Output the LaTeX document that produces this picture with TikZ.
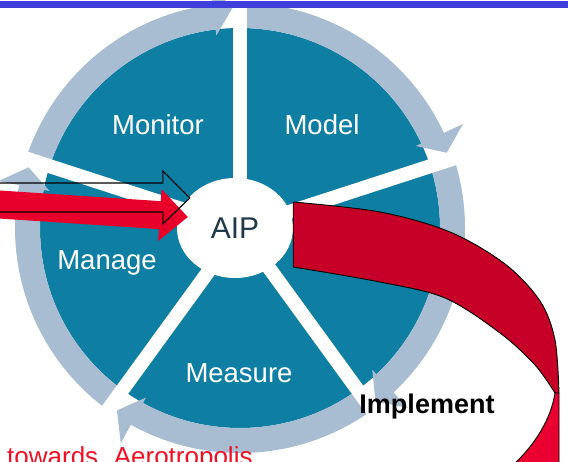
\documentclass[tikz,border=0pt]{standalone}
\usepackage{fontspec}
\setmainfont{Liberation Sans}
\usetikzlibrary{calc, positioning}
\usetikzlibrary{shapes.geometric}

\definecolor{diskblue}{RGB}{14,127,163}
\definecolor{ringgray}{RGB}{168,189,209}
\definecolor{barblue}{RGB}{62,62,218}
\definecolor{inred}{RGB}{232,0,42}
\definecolor{ribdark}{RGB}{198,0,38}
\definecolor{ribbright}{RGB}{234,0,48}
\definecolor{aiptext}{RGB}{30,58,74}
\definecolor{towardsred}{RGB}{240,16,36}

\tikzset{
  seglabel/.style={text=white, anchor=base, font=\fontsize{27.5}{30}\selectfont},
  spoke/.style={white, line width=14pt, line cap=butt},
  ribbon/.style={draw=black, line width=0.9pt},
}

\begin{document}
\begin{tikzpicture}[x=1pt,y=1pt,line cap=round,line join=round]
\path[use as bounding box] (0,0) rectangle (568,461);
\clip (0,0) rectangle (568,461);

\coordinate (O) at (240,233);
\def\rin{200}
\def\rout{225}

\fill[diskblue] (O) circle (\rin);

% gray arrows round the wheel
\foreach \b in {90,18,-54,-126,162}{
  \pgfmathsetmacro{\startang}{\b+72}
  \pgfmathsetmacro{\barbang}{\b+7}
  \pgfmathsetmacro{\tipang}{\b+2}
  \fill[ringgray,shift={(O)}] (\startang:\rin)
    arc[start angle=\startang,end angle=\barbang,radius=\rin]
    -- (\barbang:194) -- (\tipang:220) -- (\barbang:246) -- (\barbang:\rout)
    arc[start angle=\barbang,end angle=\startang,radius=\rout] -- cycle;
}

\foreach \b in {90,18,-54,-126,162}{\draw[spoke] (O) -- ++(\b:250);}

\node[ellipse, fill=white, minimum width=116pt, minimum height=100pt, inner sep=0pt,
  text=aiptext, font=\fontsize{30}{32}\selectfont] (aip) at (235,233) {AIP};

\node[seglabel] (monitor) at (158,326) {Monitor};
\node[seglabel] (model) at (322,326) {Model};
\node[seglabel] (manage) at (107,191) {Manage};
\node[seglabel] (measure) at (239,78) {Measure};

% arrows coming in from the left
\coordinate (redtip) at ($(aip.west)+(11,11)$);
\coordinate (blacktip) at ($(aip.west)+(13,30)$);
\begin{scope}[shift={(redtip)},rotate=-3.8]
  \fill[inred] (0,0) -- (-28,26) -- (-28,14) -- (-215,14) -- (-215,-14)
    -- (-28,-14) -- (-28,-26) -- cycle;
\end{scope}
\draw[black, line width=1.1pt, line join=miter] (blacktip) -- ++(-27,27) -- ++(0,-12)
  -- ++(-175,0) -- ++(0,-29) -- ++(175,0) -- ++(0,-12) -- cycle;

% Implement ribbon
\coordinate (ribtop) at ($(aip.east)+(0,26)$);
\coordinate (ribbot) at ($(aip.east)+(0,-39)$);
\filldraw[ribbon, fill=ribdark]
  plot[smooth,tension=0.55] coordinates {(ribtop) (380,249) (450,229) (505,197) (540,160) (555,121) (559,68)}
  -- plot[smooth,tension=0.55] coordinates {(555,68) (535,96) (500,128) (445,163) (380,179) (ribbot)}
  -- cycle;
\filldraw[ribbon, fill=ribbright] (559,68) -- (559,-5) -- (512,-5)
  .. controls (535,16) and (551,42) .. (555,68) -- cycle;

\node[font=\bfseries\fontsize{27}{29}\selectfont, anchor=base] (impl) at (427,48) {Implement};

\fill[barblue] (0,453) rectangle (568,459.5);

\node[text=towardsred, anchor=base west, inner sep=0pt, font=\fontsize{26}{28}\selectfont]
  (towards) at (7,-4) {towards\hspace{0.6em}Aerotropolis};
\end{tikzpicture}
\end{document}
